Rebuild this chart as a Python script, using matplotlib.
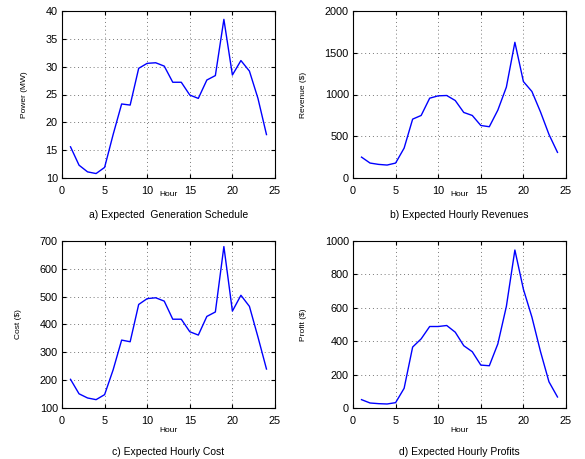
import numpy as np
import matplotlib.pyplot as plt

plt.rcParams['font.family'] = ['Liberation Sans', 'DejaVu Sans']

hours = np.arange(1, 25)

power = [15.6, 12.3, 11.1, 10.8, 11.9, 17.8, 23.3, 23.1, 29.7, 30.6, 30.7, 30.1,
         27.2, 27.2, 24.9, 24.3, 27.6, 28.4, 38.5, 28.5, 31.1, 29.2, 24.3, 17.8]
revenue = [250, 179, 163, 155, 179, 358, 705, 749, 956, 984, 988, 928,
           785, 749, 629, 614, 813, 1088, 1625, 1155, 1036, 793, 522, 307]
cost = [203, 151, 136, 130, 148, 237, 344, 338, 472, 493, 496, 484,
        419, 419, 374, 362, 429, 445, 680, 448, 505, 465, 355, 240]
profit = [50, 30, 26, 24, 32, 118, 365, 414, 488, 488, 494, 454,
          373, 337, 257, 253, 384, 608, 946, 711, 544, 339, 157, 66]

panels = [
    (power, 'Power (MW)', (10, 40), np.arange(10, 41, 5), 'a) Expected  Generation Schedule'),
    (revenue, 'Revenue ($)', (0, 2000), np.arange(0, 2001, 500), 'b) Expected Hourly Revenues'),
    (cost, 'Cost ($)', (100, 700), np.arange(100, 701, 100), 'c) Expected Hourly Cost'),
    (profit, 'Profit ($)', (0, 1000), np.arange(0, 1001, 200), 'd) Expected Hourly Profits'),
]

W, H = 585, 459
fig = plt.figure(figsize=(W / 100, H / 100), dpi=100)

# axes boxes in pixels: left, top, right, bottom
boxes = [(62, 11, 275, 178), (353, 11, 566, 178),
         (62, 241, 275, 408), (353, 241, 566, 408)]
title_y = [215, 215, 452, 452]
hour_y = [194, 194, 430, 430]

for i, (vals, ylab, ylim, yt, title) in enumerate(panels):
    l, t, r, b = boxes[i]
    ax = fig.add_axes([l / W, 1 - b / H, (r - l) / W, (b - t) / H])
    ax.plot(hours, vals, color='#0000ff', lw=1.0)
    ax.set_xlim(0, 25)
    ax.set_ylim(*ylim)
    ax.set_xticks(np.arange(0, 26, 5))
    ax.set_yticks(yt)
    ax.grid(True, linestyle=(0, (1, 3)), color='#777777', lw=0.7)
    ax.tick_params(direction='in', length=3, labelsize=7.8, top=True, right=True)
    ax.tick_params(axis='x', pad=5.5)
    ax.tick_params(axis='y', pad=3)
    for s in ax.spines.values():
        s.set_linewidth(0.8)
    ax.set_ylabel(ylab, fontsize=6, labelpad=13)
    fig.text((l + r) / 2 / W, 1 - hour_y[i] / H, 'Hour', ha='center', va='center', fontsize=6)
    fig.text((l + r) / 2 / W, 1 - title_y[i] / H, title, ha='center', va='center', fontsize=7.5)

fig.savefig('out.png', dpi=100)
